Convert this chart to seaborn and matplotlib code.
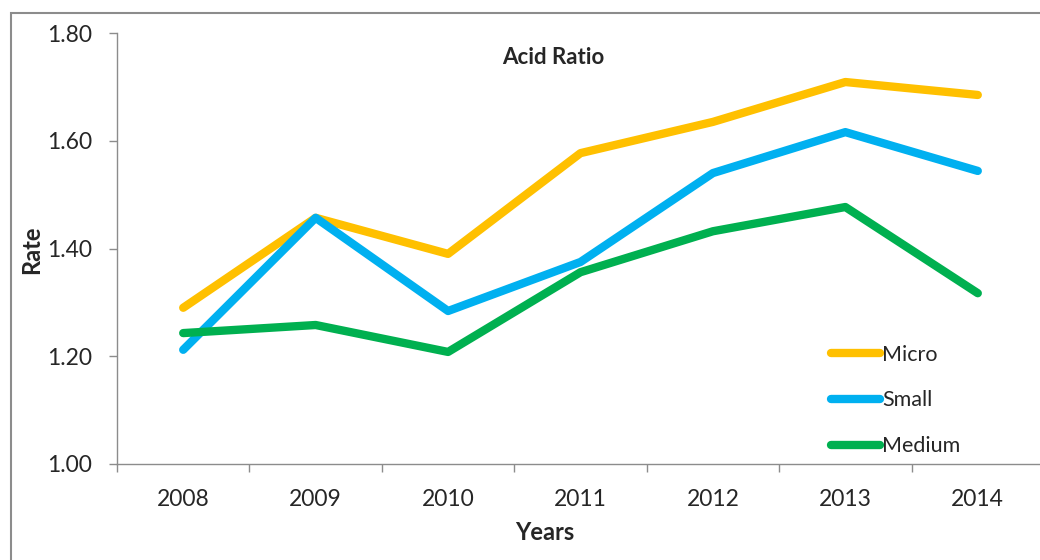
import matplotlib
matplotlib.use("Agg")
import matplotlib.pyplot as plt
import matplotlib.patches as mpatches
import seaborn as sns
import numpy as np
import pandas as pd

years = ["2008", "2009", "2010", "2011", "2012", "2013", "2014"]
micro = [1.29, 1.457, 1.39, 1.577, 1.635, 1.709, 1.685]
small = [1.212, 1.457, 1.284, 1.375, 1.54, 1.616, 1.544]
medium = [1.243, 1.258, 1.208, 1.356, 1.432, 1.477, 1.317]
series_names = ["Micro", "Small", "Medium"]
colors = ["#FFC000", "#00B0F0", "#00B050"]

sns.set_style("white")
plt.rcParams["font.family"] = ["Lato", "DejaVu Sans"]

# long table for seaborn
rows = []
for name, vals in zip(series_names, [micro, small, medium]):
    for i, v in enumerate(vals):
        rows.append({"pos": i, "Year": years[i], "Rate": v, "Size": name})
df = pd.DataFrame(rows)

fig = plt.figure(figsize=(10.4, 5.6), dpi=100)
W, H = 1040, 560
# chart area border (cropped on right/bottom like the source)
fig.patches.append(mpatches.Rectangle((11 / W, -0.1), 1.2, 1 - 13 / H + 0.1,
                                      transform=fig.transFigure, fill=False,
                                      edgecolor="#8c8c8c", linewidth=1.5))

ax = fig.add_axes([117 / W, 1 - 464 / H, (1044 - 117) / W, (464 - 33) / H])
sns.lineplot(data=df, x="pos", y="Rate", hue="Size", palette=colors,
             hue_order=series_names, linewidth=6, ax=ax, legend=False,
             solid_capstyle="round")

ax.set_xlim(-0.5, 6.5)
ax.set_ylim(1.0, 1.8)
ax.set_yticks(np.arange(1.0, 1.81, 0.2))
ax.set_yticklabels([f"{v:.2f}" for v in np.arange(1.0, 1.81, 0.2)])
ax.set_xticks(range(len(years)))
ax.set_xticklabels(years)
ax.set_xticks(np.arange(-0.5, 7, 1), minor=True)
ax.tick_params(axis="x", which="major", length=0, pad=18, labelsize=16.5)
ax.tick_params(axis="x", which="minor", length=6, width=1, color="#8c8c8c",
               direction="out", bottom=True)
ax.tick_params(axis="y", length=6, width=1, color="#8c8c8c", direction="out",
               left=True, pad=12, labelsize=16.5)
for s in ["top", "right"]:
    ax.spines[s].set_visible(False)
for s in ["left", "bottom"]:
    ax.spines[s].set_color("#8c8c8c")
    ax.spines[s].set_linewidth(1)
ax.set_xlabel("")
ax.set_ylabel("")

fig.text(553 / W, 1 - 57 / H, "Acid Ratio", ha="center", va="center",
         fontsize=16, fontweight="bold")
fig.text(32 / W, 1 - 250 / H, "Rate", ha="center", va="center",
         rotation=90, fontsize=17, fontweight="bold")
fig.text(545 / W, 1 - 533 / H, "Years", ha="center", va="center",
         fontsize=17, fontweight="bold")

handles = [plt.Line2D([], [], color=c, linewidth=6, solid_capstyle="round")
           for c in colors]
leg = ax.legend(handles, series_names, loc="upper left",
                bbox_to_anchor=(822 / W, 1 - 336 / H), bbox_transform=fig.transFigure,
                frameon=False, handlelength=2.3, handletextpad=0.1,
                labelspacing=1.2, fontsize=15.5, borderaxespad=0)

fig.savefig("out.png", dpi=100)
